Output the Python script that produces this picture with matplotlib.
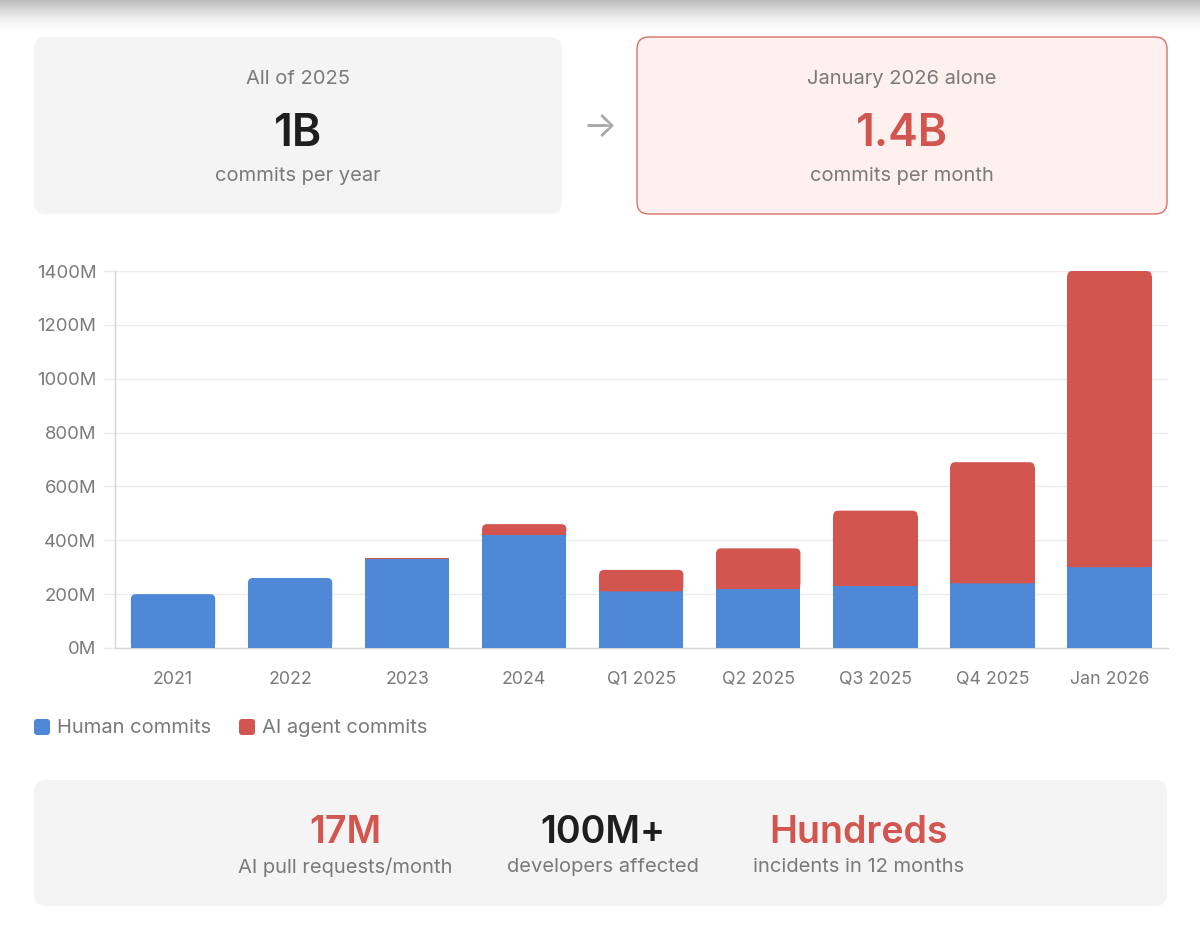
import numpy as np
import matplotlib
matplotlib.use("Agg")
import matplotlib.pyplot as plt
from matplotlib.patches import FancyBboxPatch, Rectangle

# ---------------- data ----------------
categories = ["2021", "2022", "2023", "2024", "Q1 2025", "Q2 2025", "Q3 2025", "Q4 2025", "Jan 2026"]
human_commits = [200, 260, 330, 420, 210, 220, 230, 240, 300]      # millions
ai_commits = [0, 0, 5, 40, 80, 150, 280, 450, 1100]                 # millions
series_names = ["Human commits", "AI agent commits"]
y_ticks = [0, 200, 400, 600, 800, 1000, 1200, 1400]

left_card = ("All of 2025", "1B", "commits per year")
right_card = ("January 2026 alone", "1.4B", "commits per month")
stats_values = ["17M", "100M+", "Hundreds"]
stats_labels = ["AI pull requests/month", "developers affected", "incidents in 12 months"]

# ---------------- style ----------------
BLUE = "#4e88d7"
RED = "#d2554f"
GRAY_TXT = "#7a7a7a"
DARK = "#1e1e1e"
CARD = "#f4f4f4"
GRID = "#ebebeb"
AXLINE = "#d6d6d6"
FONT = ["Inter", "DejaVu Sans"]
plt.rcParams["font.family"] = FONT

W, H = 1200, 943
fig = plt.figure(figsize=(W / 100, H / 100), dpi=100)
fig.patch.set_facecolor("white")

# overlay axes in pixel coordinates
bg = fig.add_axes([0, 0, 1, 1])
bg.set_xlim(0, W)
bg.set_ylim(H, 0)
bg.axis("off")

# top shadow gradient
grad = np.linspace(1, 0, 60).reshape(-1, 1) ** 1.6
shade = np.zeros((60, 1, 4))
shade[..., :3] = 0.55
shade[..., 3] = grad[..., 0:1] * 0.6
bg.imshow(shade, extent=(0, W, 32, 0), aspect="auto", interpolation="bilinear", zorder=0)


def card(x0, y0, x1, y1, fc, ec=None, r=12):
    p = FancyBboxPatch((x0 + r, y0 + r), (x1 - x0) - 2 * r, (y1 - y0) - 2 * r,
                       boxstyle=f"round,pad={r},rounding_size={r}",
                       fc=fc, ec=ec if ec else "none", lw=1.0 if ec else 0, zorder=1)
    bg.add_patch(p)


# top cards
card(34, 37, 562, 214, CARD)
card(637, 37, 1167, 214, "#fdf0ef", ec="#d7716b")
for cx, (t1, t2, t3), col in [(298, left_card, DARK), (902, right_card, RED)]:
    bg.text(cx, 79, t1, ha="center", va="center", fontsize=14.5, color=GRAY_TXT, zorder=2)
    bg.text(cx, 134.5, t2, ha="center", va="center", fontsize=32, fontweight="semibold", color=col, zorder=2)
    bg.text(cx, 176, t3, ha="center", va="center", fontsize=14.5, color=GRAY_TXT, zorder=2)
bg.text(600, 127, "\u2192", ha="center", va="center", fontsize=26, color="#a9a9a9", zorder=2,
        family=FONT)

# bottom card
card(34, 780, 1167, 906, CARD)
stat_x = [345, 603, 859]
stat_cols = [RED, DARK, RED]
for sx, v, lab, c in zip(stat_x, stats_values, stats_labels, stat_cols):
    bg.text(sx, 833, v, ha="center", va="center", fontsize=27, fontweight="semibold", color=c, zorder=2)
    bg.text(sx, 867, lab, ha="center", va="center", fontsize=14.5, color=GRAY_TXT, zorder=2)

# legend
leg_x = [34, 239]
for lx, name, c in zip(leg_x, series_names, [BLUE, RED]):
    bg.add_patch(FancyBboxPatch((lx + 3, 722), 10, 10, boxstyle="round,pad=3,rounding_size=3",
                                fc=c, ec="none", zorder=2))
    bg.text(lx + 23, 728, name, ha="left", va="center", fontsize=14.5, color=GRAY_TXT, zorder=2)

# ---------------- chart ----------------
px0, px1, py_top, py_bot = 114.5, 1168, 271, 648
ax = fig.add_axes([px0 / W, (H - py_bot) / H, (px1 - px0) / W, (py_bot - py_top) / H])
ax.set_facecolor("none")
x = np.arange(len(categories))
ax.set_xlim(-0.5, len(categories) - 0.5)
ax.set_ylim(0, 1400)

bw = 0.72
bars_h = ax.bar(x, human_commits, width=bw, color=BLUE, zorder=3)
bars_a = ax.bar(x, ai_commits, width=bw, bottom=human_commits, color=RED, zorder=3)

# round the top corners of each stack's top segment
x_per_px = (len(categories)) / (px1 - px0)
y_per_px = 1400 / (py_bot - py_top)
asp = y_per_px / x_per_px
for bh, ba, hv, av in zip(bars_h, bars_a, human_commits, ai_commits):
    top = ba if av > 0 else bh
    if av == 0:
        ba.set_visible(False)
    x0, y0 = top.get_x(), top.get_y()
    w, h = top.get_width(), top.get_height()
    h_px = h / y_per_px
    r_px = min(5.0, h_px / 2.0)
    if r_px < 0.8:
        continue
    col = top.get_facecolor()
    top.set_visible(False)
    r = r_px * x_per_px
    ry = r_px * y_per_px
    ax.add_patch(FancyBboxPatch((x0, y0), w, h, boxstyle=f"round,pad=0,rounding_size={r}",
                                mutation_aspect=asp, fc=col, ec="none", zorder=3))
    ax.add_patch(Rectangle((x0, y0), w, h - ry, fc=col, ec="none", zorder=3))

ax.set_yticks(y_ticks)
ax.set_yticklabels([f"{v}M" for v in y_ticks])
ax.set_xticks(x)
ax.set_xticklabels(categories)
ax.grid(axis="y", color=GRID, lw=1.0, zorder=0)
ax.grid(axis="x", visible=False)
for s in ["top", "right"]:
    ax.spines[s].set_visible(False)
for s in ["left", "bottom"]:
    ax.spines[s].set_color(AXLINE)
    ax.spines[s].set_linewidth(1.0)
ax.tick_params(axis="y", length=9, width=1.0, color=GRID, pad=4, labelsize=13.3, labelcolor=GRAY_TXT)
ax.tick_params(axis="x", length=0, pad=16.5, labelsize=12.8, labelcolor=GRAY_TXT)

fig.savefig("out.png", dpi=100, facecolor="white")
